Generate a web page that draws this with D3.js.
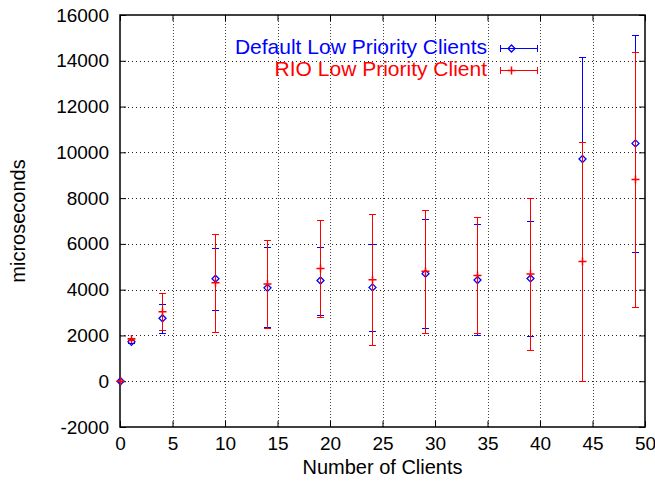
<!DOCTYPE html>
<html>
<head>
<meta charset="utf-8">
<script src="https://cdn.jsdelivr.net/npm/d3@7"></script>
<style>
  body { margin: 0; background: #fff; }
  text { font-family: "Liberation Sans", Arial, sans-serif; }
</style>
</head>
<body>
<div id="chart-area"></div>
<script>
// data
let clients = [0, 1, 4, 9, 14, 19, 24, 29, 34, 39, 44, 49];

let defMean = [0, 1720, 2750, 4480, 4080, 4400, 4100, 4700, 4420, 4490, 9710, 10390];
let defLow  = [0, 1650, 2100, 3100, 2350, 2910, 2190, 2320, 2000, 1970, 5240, 5650];
let defHigh = [0, 1790, 3380, 5840, 5860, 5880, 6010, 7100, 6860, 7000, 14180, 15140];

let rioMean = [0, 1840, 3040, 4300, 4250, 4930, 4430, 4800, 4620, 4680, 5230, 8810];
let rioLow  = [0, 1780, 2250, 2160, 2340, 2800, 1570, 2100, 2100, 1350, 0, 3230];
let rioHigh = [0, 1900, 3840, 6450, 6160, 7040, 7290, 7490, 7190, 8010, 10450, 14390];

let xTicks = [0, 5, 10, 15, 20, 25, 30, 35, 40, 45, 50];
let yTicks = [-2000, 0, 2000, 4000, 6000, 8000, 10000, 12000, 14000, 16000];

let seriesNames = ["Default Low Priority Clients", "RIO Low Priority Client"];
let seriesColors = ["#0000ff", "#ff0000"];

// margins
let margin = { lft: 120, rht: 10, top: 15, bot: 54 };
let width = 655 - margin.lft - margin.rht;
let height = 481 - margin.top - margin.bot;

let svg = d3.select("#chart-area")
  .append("svg")
    .attr("width", 655)
    .attr("height", 481);

let g = svg.append("g")
    .attr("transform", `translate(${margin.lft}, ${margin.top})`);

let x = d3.scaleLinear().domain([0, 50]).range([0, width]);
let y = d3.scaleLinear().domain([-2000, 16000]).range([height, 0]);

// snap to pixel centres so 1px lines stay sharp
let px = v => Math.round(x(v)) + 0.5;
let py = v => Math.round(y(v)) + 0.5;

// grid
g.selectAll(".vgrid")
  .data(xTicks.slice(1, -1))
  .enter().append("line")
    .attr("x1", px).attr("x2", px)
    .attr("y1", 0).attr("y2", height)
    .attr("stroke", "#444")
    .attr("stroke-dasharray", "1,2");

g.selectAll(".hgrid")
  .data(yTicks.slice(1, -1))
  .enter().append("line")
    .attr("y1", py).attr("y2", py)
    .attr("x1", 0).attr("x2", width)
    .attr("stroke", "#222")
    .attr("stroke-dasharray", "1,3");

// axes (ticks pointing inward, mirrored)
let tickLen = 6;
let plain = d => String(d);
g.append("g")
  .attr("transform", `translate(0, ${height})`)
  .call(d3.axisBottom(x).tickValues(xTicks).tickFormat(plain).tickSizeInner(-tickLen).tickSizeOuter(0).tickPadding(10))
  .call(a => a.select(".domain").remove());
g.append("g")
  .call(d3.axisTop(x).tickValues(xTicks).tickSizeInner(-tickLen).tickSizeOuter(0).tickFormat(""))
  .call(a => a.select(".domain").remove());
g.append("g")
  .call(d3.axisLeft(y).tickValues(yTicks).tickFormat(plain).tickSizeInner(-tickLen).tickSizeOuter(0).tickPadding(11))
  .call(a => a.select(".domain").remove());
g.append("g")
  .attr("transform", `translate(${width}, 0)`)
  .call(d3.axisRight(y).tickValues(yTicks).tickSizeInner(-tickLen).tickSizeOuter(0).tickFormat(""))
  .call(a => a.select(".domain").remove());

g.selectAll(".tick text")
  .attr("font-family", "Liberation Sans, Arial, sans-serif")
  .attr("font-size", "19px")
  .attr("fill", "#000");
g.selectAll(".tick line").attr("stroke", "#000");

// frame
g.append("rect")
  .attr("x", 0).attr("y", 0)
  .attr("width", width).attr("height", height)
  .attr("fill", "none")
  .attr("stroke", "#000")
  .attr("stroke-width", 1.5);

// axis titles
svg.append("text")
  .attr("x", margin.lft + width / 2)
  .attr("y", 474)
  .attr("text-anchor", "middle")
  .attr("font-size", "20px")
  .text("Number of Clients");

svg.append("text")
  .attr("transform", `translate(25, ${margin.top + height / 2}) rotate(-90)`)
  .attr("text-anchor", "middle")
  .attr("font-size", "20px")
  .text("microseconds");

// series
let series = [
  { name: seriesNames[0], color: seriesColors[0], mean: defMean, low: defLow, high: defHigh, marker: "diamond" },
  { name: seriesNames[1], color: seriesColors[1], mean: rioMean, low: rioLow, high: rioHigh, marker: "plus" }
];

let cap = 3.5;

function drawMarker(sel, kind, color) {
  if (kind === "diamond") {
    sel.append("path")
      .attr("d", "M0,-3.5L3.5,0L0,3.5L-3.5,0Z")
      .attr("fill", "none")
      .attr("stroke", color)
      .attr("stroke-width", 1.3);
  } else {
    sel.append("path")
      .attr("d", "M-4,0H4M0,-4V4")
      .attr("stroke", color)
      .attr("stroke-width", 1.5);
  }
}

series.forEach(s => {
  let pts = clients.map((c, i) => ({ c: c, m: s.mean[i], lo: s.low[i], hi: s.high[i] }));
  let grp = g.append("g");

  let bars = grp.selectAll(".bar").data(pts).enter().append("g");
  bars.append("line")
    .attr("x1", d => px(d.c)).attr("x2", d => px(d.c))
    .attr("y1", d => py(d.lo)).attr("y2", d => py(d.hi))
    .attr("stroke", s.color);
  bars.append("line")
    .attr("x1", d => px(d.c) - cap).attr("x2", d => px(d.c) + cap)
    .attr("y1", d => py(d.lo)).attr("y2", d => py(d.lo))
    .attr("stroke", s.color);
  bars.append("line")
    .attr("x1", d => px(d.c) - cap).attr("x2", d => px(d.c) + cap)
    .attr("y1", d => py(d.hi)).attr("y2", d => py(d.hi))
    .attr("stroke", s.color);

  let marks = g.append("g").selectAll(".mark").data(pts).enter().append("g")
    .attr("transform", d => `translate(${px(d.c)}, ${y(d.m)})`);
  drawMarker(marks, s.marker, s.color);
});

// legend
series.forEach((s, i) => {
  let ly = 47 + i * 22;
  svg.append("text")
    .attr("x", 487)
    .attr("y", ly)
    .attr("dy", "0.35em")
    .attr("text-anchor", "end")
    .attr("font-size", "21px")
    .attr("fill", s.color)
    .text(s.name);
  let lg = svg.append("g");
  lg.append("line")
    .attr("x1", 500).attr("x2", 537)
    .attr("y1", ly + 1.5).attr("y2", ly + 1.5)
    .attr("stroke", s.color);
  [500.5, 537.5].forEach(xx => {
    lg.append("line")
      .attr("x1", xx).attr("x2", xx)
      .attr("y1", ly + 1.5 - cap).attr("y2", ly + 1.5 + cap)
      .attr("stroke", s.color);
  });
  let mk = lg.append("g").attr("transform", `translate(511.5, ${ly + 1.5})`);
  drawMarker(mk, s.marker, s.color);
});
</script>
</body>
</html>
